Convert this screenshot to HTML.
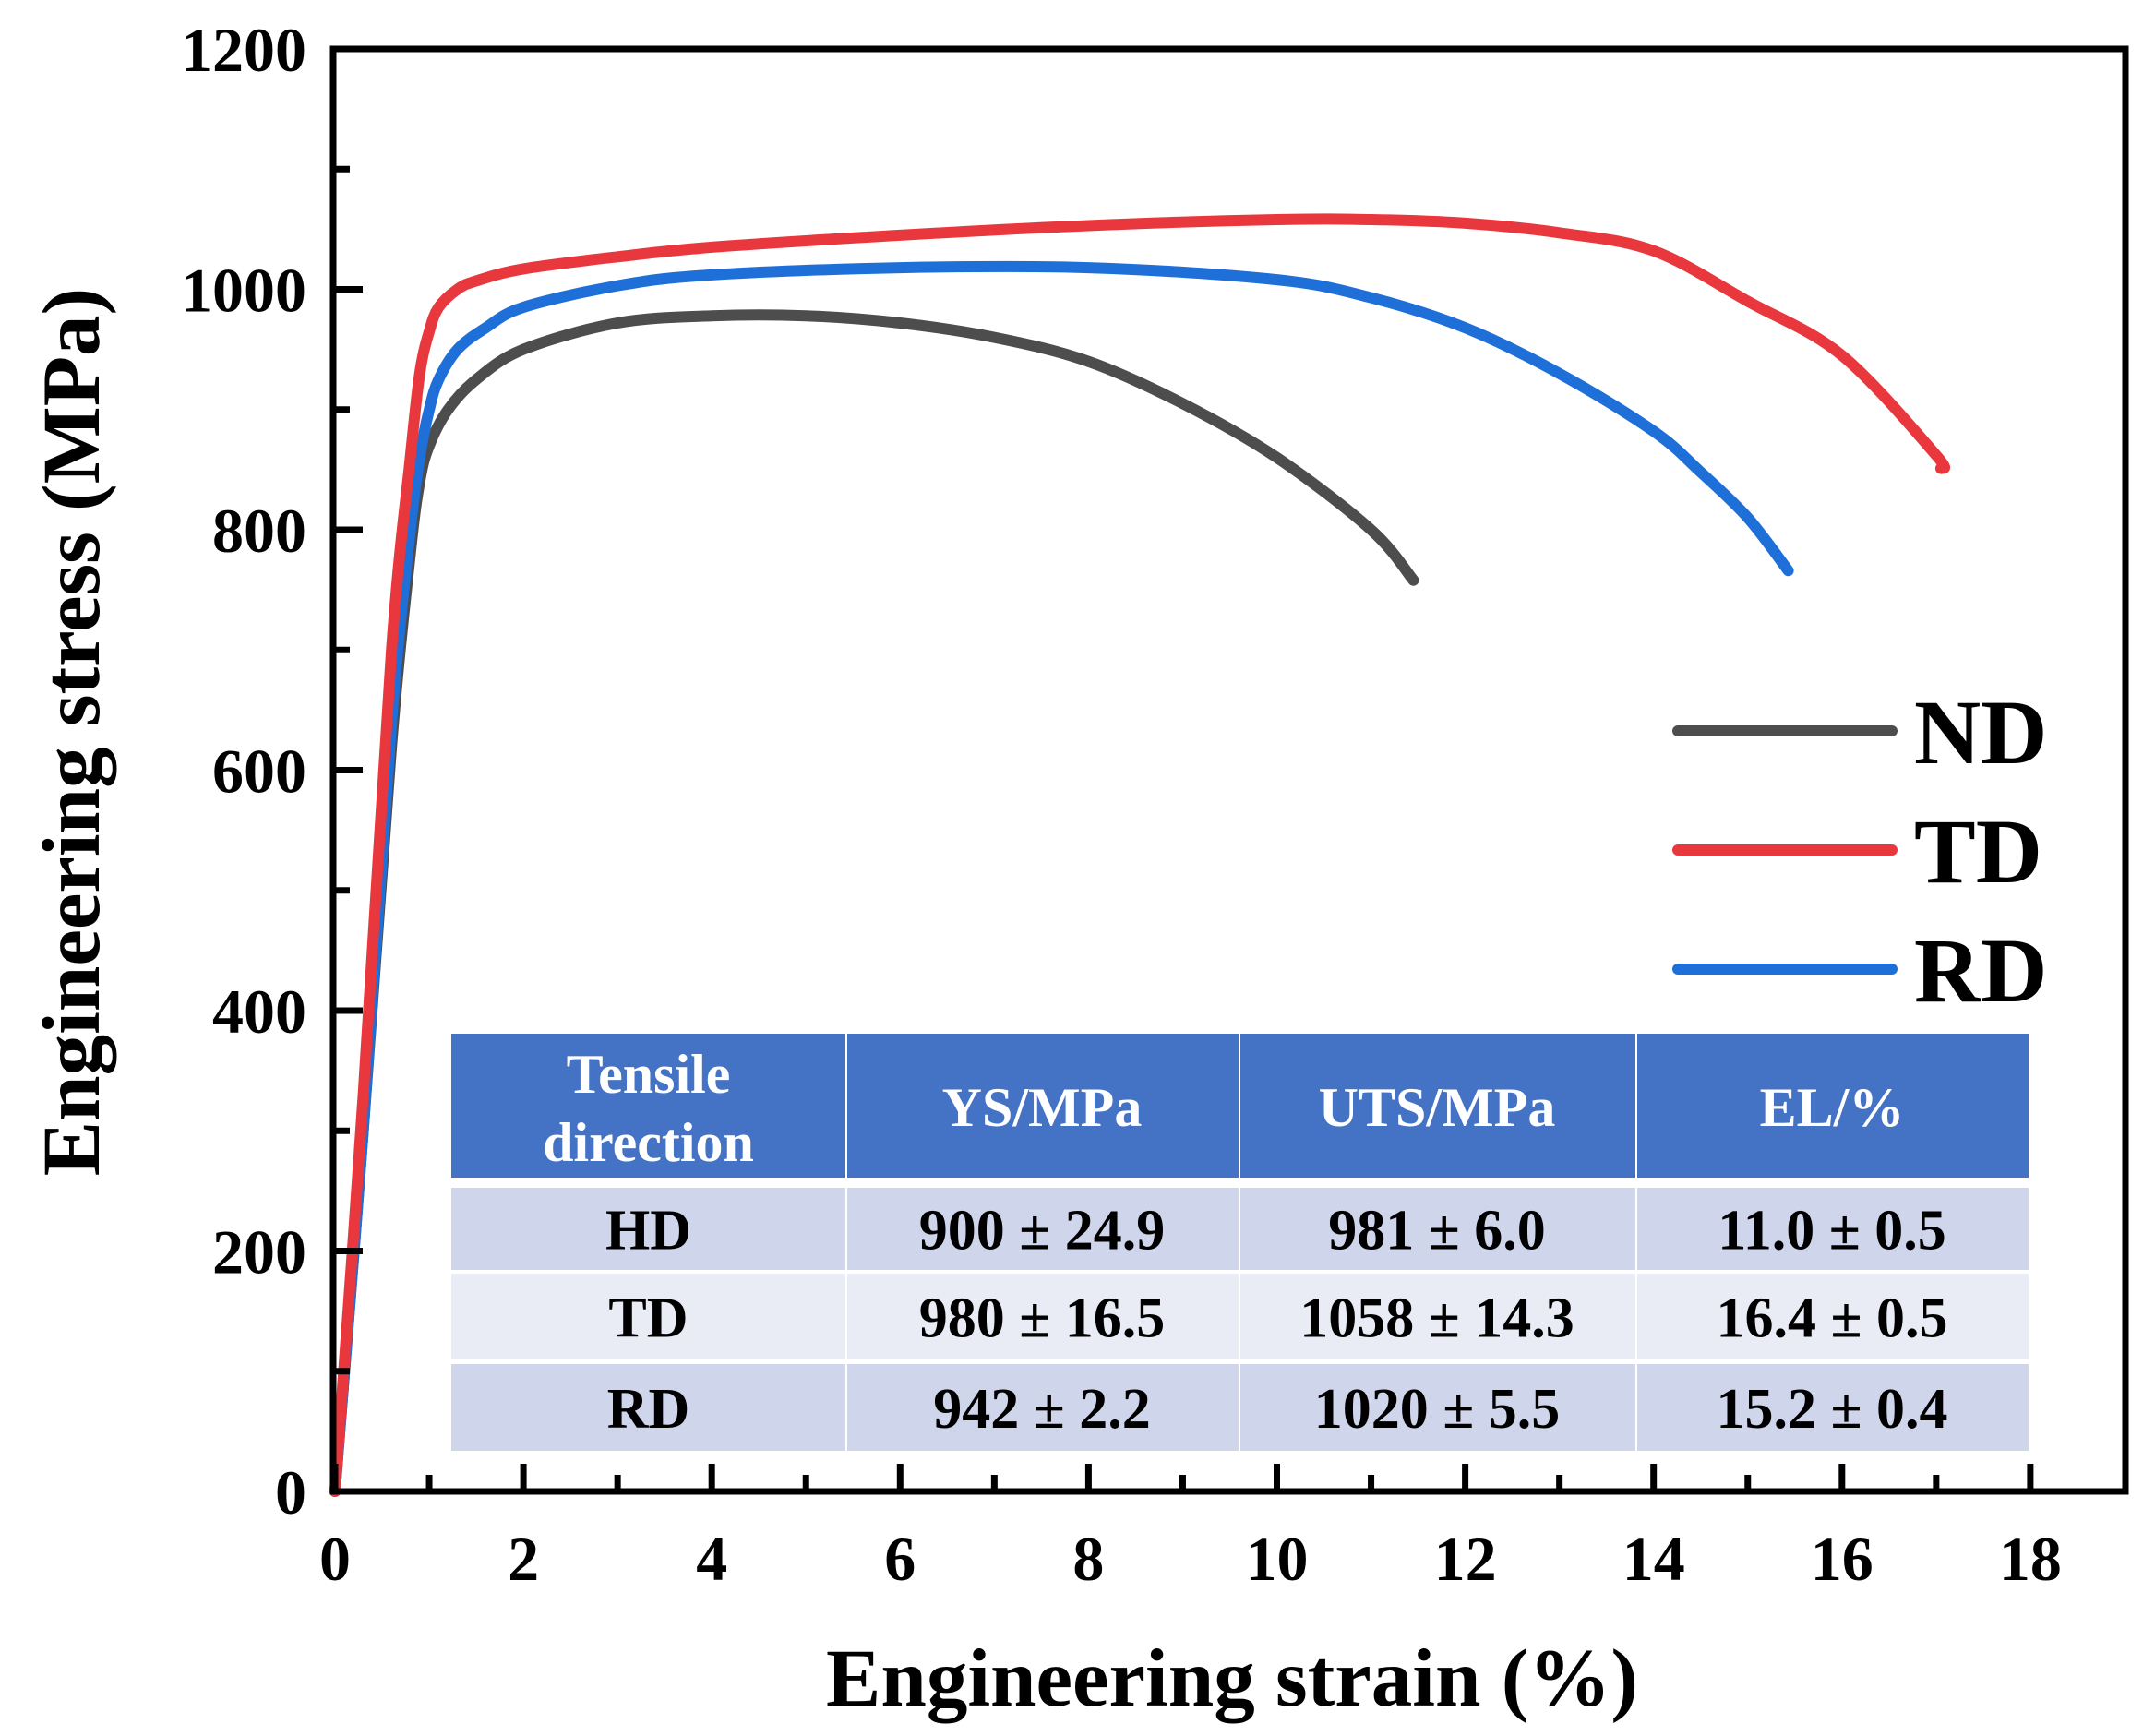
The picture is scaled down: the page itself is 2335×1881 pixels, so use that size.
<!DOCTYPE html>
<html><head><meta charset="utf-8"><style>
html,body{margin:0;padding:0;background:#fff;}
svg{display:block;}
text{font-family:"Liberation Serif",serif;font-weight:bold;}
</style></head><body>
<svg id="chart" width="2335" height="1881" viewBox="0 0 2335 1881" xmlns="http://www.w3.org/2000/svg">
<g id="plot"></g>
</svg>
<script>
const xTicks = [0,2,4,6,8,10,12,14,16,18];
const yTicks = [0,200,400,600,800,1000,1200];
const ndStrain = [0,0.3,0.6,0.8,0.9,1.0,1.2,1.5,2,3,4,5,6,7,8,9,10,11,11.45];
const ndStress = [0,300,620,780,840,870,900,925,950,972,978,978,972,960,940,905,860,800,758];
const tdStrain = [0,0.3,0.6,0.8,0.9,1.0,1.1,1.3,1.5,2,3,4,6,8,10,11,12,13,14,15,16,17,17.05];
const tdStress = [0,330,700,860,930,965,985,1000,1007,1017,1027,1035,1045,1053,1058,1058,1055,1047,1032,990,945,862,851];
const rdStrain = [0,0.3,0.6,0.8,0.9,1.0,1.1,1.3,1.6,2,3,4,6,8,10,11,12,13,14,14.5,15,15.43];
const rdStress = [0,300,640,800,860,900,925,950,968,985,1003,1012,1018,1018,1008,993,968,930,882,848,810,766];
const tableHeader = ["Tensile direction","YS/MPa","UTS/MPa","EL/%"];
const tableRows = [["HD","900 ± 24.9","981 ± 6.0","11.0 ± 0.5"],["TD","980 ± 16.5","1058 ± 14.3","16.4 ± 0.5"],["RD","942 ± 2.2","1020 ± 5.5","15.2 ± 0.4"]];

const NS="http://www.w3.org/2000/svg";
const g=document.getElementById('plot');
const X0=363,X1=2303,Y0=1616,Y1=53;
function xs(v){return X0+v*102.05;}
function ys(v){return Y0-v*1.3025;}
function el(tag,attrs,parent){const e=document.createElementNS(NS,tag);for(const k in attrs)e.setAttribute(k,attrs[k]);(parent||g).appendChild(e);return e;}

function curve(sx,sy,color,name){
  const P=sx.map((s,i)=>[xs(s),ys(sy[i])]);
  let d='M'+P[0][0].toFixed(1)+','+P[0][1].toFixed(1);
  for(let i=0;i<P.length-1;i++){
    const p0=P[Math.max(0,i-1)],p1=P[i],p2=P[i+1],p3=P[Math.min(P.length-1,i+2)];
    const c1=[p1[0]+(p2[0]-p0[0])/6,p1[1]+(p2[1]-p0[1])/6];
    const c2=[p2[0]-(p3[0]-p1[0])/6,p2[1]-(p3[1]-p1[1])/6];
    d+='C'+c1[0].toFixed(1)+','+c1[1].toFixed(1)+' '+c2[0].toFixed(1)+','+c2[1].toFixed(1)+' '+p2[0].toFixed(1)+','+p2[1].toFixed(1);
  }
  const p=el('path',{d:d,fill:'none',stroke:color,'stroke-width':12,'stroke-linejoin':'round','stroke-linecap':'round'});
  
  
}
curve(ndStrain,ndStress,'#4d4d4d','nd-curve');
curve(rdStrain,rdStress,'#1f6fd9','rd-curve');
curve(tdStrain,tdStress,'#e8383d','td-curve');

const colX=[489,916,1342,1772,2198];
const rowY=[[1120,1276],[1287,1376],[1380,1473],[1478,1572]];
const fills=['#4472c4','#cfd5ea','#e9ebf5','#cfd5ea'];
const tbl=el('g',{});


for(let r=0;r<4;r++){
  for(let c=0;c<4;c++){
    const rc=el('rect',{x:colX[c]+(c?2:0),y:rowY[r][0],width:colX[c+1]-colX[c]-(c?2:0),height:rowY[r][1]-rowY[r][0],fill:fills[r]},tbl);
    
    
    const cx=(colX[c]+colX[c+1])/2, cy=(rowY[r][0]+rowY[r][1])/2;
    if(r===0){
      if(c===0){
        const t1=el('text',{x:cx,y:cy-14,'text-anchor':'middle','font-size':60,fill:'#fff'},tbl);t1.textContent='Tensile';
        
        
        const t2=el('text',{x:cx,y:cy+60,'text-anchor':'middle','font-size':60,fill:'#fff'},tbl);t2.textContent='direction';
        
        
      } else {
        const t=el('text',{x:cx,y:cy+22,'text-anchor':'middle','font-size':60,fill:'#fff'},tbl);t.textContent=tableHeader[c];
        
        
      }
    } else {
      const t=el('text',{x:cx,y:cy+22,'text-anchor':'middle','font-size':62,fill:'#000'},tbl);t.textContent=tableRows[r-1][c];
      
      
    }
  }
}

const fr=el('rect',{x:X0-2,y:Y1,width:X1-X0+2,height:Y0-Y1,fill:'none',stroke:'#000','stroke-width':7});



xTicks.forEach(v=>{
  const x=xs(v);
  const t=el('line',{x1:x,y1:Y0,x2:x,y2:Y0-30,stroke:'#000','stroke-width':7});
  
  
  const l=el('text',{x:x,y:1712,'text-anchor':'middle','font-size':68});
  l.textContent=v;
  
  
  if(v<18){
    const m=el('line',{x1:xs(v+1),y1:Y0,x2:xs(v+1),y2:Y0-18,stroke:'#000','stroke-width':7});
    
    
  }
});
yTicks.forEach(v=>{
  const y=ys(v);
  const t=el('line',{x1:X0,y1:y,x2:X0+30,y2:y,stroke:'#000','stroke-width':7});
  
  
  const l=el('text',{x:332,y:y+24,'text-anchor':'end','font-size':68});
  l.textContent=v;
  
  
  if(v<1200){
    const m=el('line',{x1:X0,y1:ys(v+100),x2:X0+16,y2:ys(v+100),stroke:'#000','stroke-width':7});
    
    
  }
});

const xt=el('text',{x:1335,y:1848,'text-anchor':'middle','font-size':89});
xt.textContent='Engineering strain (%)';


const yt=el('text',{x:0,y:0,'text-anchor':'middle','font-size':89,transform:'translate(107,793) rotate(-90)'});
yt.textContent='Engineering stress (MPa)';



const legNames=['ND','TD','RD'];
const legColors=['#4d4d4d','#e8383d','#1f6fd9'];
const legY=[792,921,1050];
legNames.forEach((n,i)=>{
  const ln=el('line',{x1:1818,y1:legY[i],x2:2050,y2:legY[i],stroke:legColors[i],'stroke-width':12,'stroke-linecap':'round'});
  
  
  const t=el('text',{x:2074,y:legY[i]+35,'font-size':100});
  t.textContent=n;
  
  
});
</script>
</body></html>
